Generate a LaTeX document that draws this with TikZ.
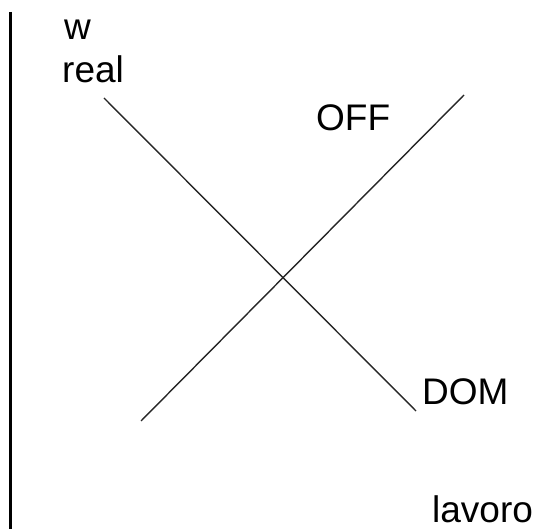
\documentclass[tikz,border=0pt]{standalone}
\usepackage{fontspec}
\setmainfont{Liberation Sans}
\begin{document}
\begin{tikzpicture}[x=1pt,y=-1pt,
  lbl/.style={anchor=base west,inner sep=0pt,text depth=0pt,font=\fontsize{37}{44}\selectfont},
  curve/.style={line width=1.4pt,draw=black!85}]
\useasboundingbox (0,0) rectangle (539,529);
\coordinate (axtop) at (10.5,12);
\coordinate (axbot) at (10.5,529);
\draw[line width=2.2pt] (axtop) -- (axbot);
\coordinate (d1) at (104,98);
\coordinate (d2) at (416,411);
\coordinate (o1) at (141,421);
\coordinate (o2) at (464,95);
\draw[curve] (d1) -- (d2);
\draw[curve] (o1) -- (o2);
\node[lbl] (w) at (64,40) {w};
\node[lbl] (real) at (62,83) {real};
\node[lbl] (off) at (316,131) {OFF};
\node[lbl] (dom) at (422,405) {DOM};
\node[lbl] (lav) at (432,523) {lavoro};
\end{tikzpicture}
\end{document}
